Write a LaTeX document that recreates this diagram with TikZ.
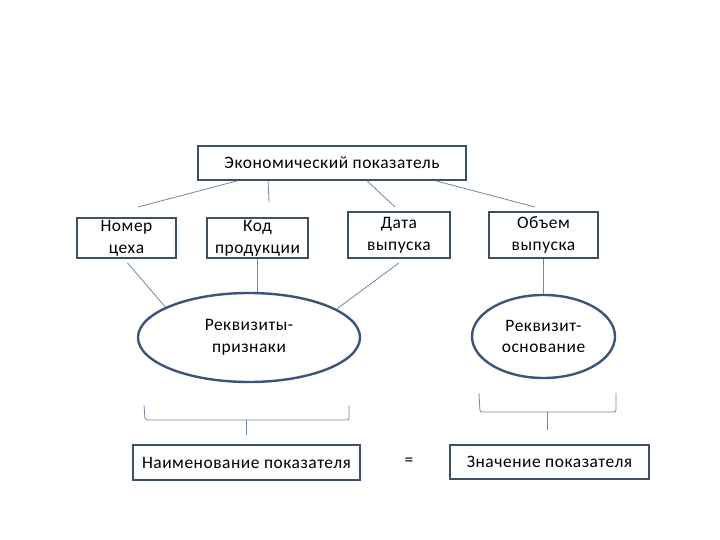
\documentclass[tikz,border=0pt]{standalone}
\usepackage{fontspec}
\setmainfont{Carlito}[LetterSpace=3]
\usepackage{tikz}
\usetikzlibrary{shapes.geometric}

\definecolor{boxline}{HTML}{3E5066}
\definecolor{ovalline}{HTML}{3B5478}
\definecolor{link}{HTML}{7088A4}

\tikzset{
    pokbox/.style={draw=boxline, line width=1.8bp, fill=white, align=center,
        inner sep=0pt, font=\fontsize{17.5}{22}\selectfont},
    oval/.style={ellipse, draw=ovalline, line width=2.4bp, fill=white, align=center,
        inner sep=0pt, font=\fontsize{17.5}{22}\selectfont},
    link/.style={draw=link, line width=0.8bp},
    brace/.style={draw=link, line width=0.8bp, rounded corners=2bp}
}

\begin{document}
\begin{tikzpicture}[x=1bp,y=-1bp]
        \useasboundingbox (0,0) rectangle (720,540);

        % Top
        \node[pokbox, minimum width=268bp, minimum height=34bp] (pok) at (332,163) {Экономический показатель};

        % Attributes
        \node[pokbox, minimum width=99bp, minimum height=40bp] (nomer) at (126.5,238) {Номер\\цеха};
        \node[pokbox, minimum width=101bp, minimum height=40bp] (kod) at (257.5,238) {Код\\продукции};
        \node[pokbox, minimum width=102bp, minimum height=46bp] (data) at (399,235) {Дата\\выпуска};
        \node[pokbox, minimum width=109bp, minimum height=46bp] (obem) at (543.5,235) {Объем\\выпуска};

        % Top links
        \coordinate (l1) at (138,207);
        \coordinate (l2) at (269,202);
        \coordinate (l3) at (395,207);
        \coordinate (l4) at (535,207);
        \draw[link] (pok.south west) ++(40,0) -- (l1);
        \draw[link] (pok.south west) ++(71,0) -- (l2);
        \draw[link] (pok.south west) ++(170,0) -- (l3);
        \draw[link] (pok.south west) ++(239,0) -- (l4);

        % Groups
        \node[oval, minimum width=222bp, minimum height=89bp] (priz) at (249,337.5) {Реквизиты-\\признаки};
        \node[oval, minimum width=143bp, minimum height=83bp] (osn) at (543.5,336.5) {Реквизит-\\основание};

        \draw[link] (nomer.south) ++(1,4) -- (priz.160);
        \draw[link] (kod.south) -- (kod.south |- priz.north);
        \draw[link] (data.south) ++(0,4) -- (priz.18);
        \draw[link] (obem.south) -- (osn.north);

        % Braces
        \draw[brace] (144,405) -- (145,420) -- (349,420) -- (349,405);
        \draw[link] (246,420) -- (246,435);
        \draw[brace] (479,393) -- (480,412) -- (616,412) -- (616,393);
        \draw[link] (547,412) -- (547,430);

        % Result
        \node[pokbox, minimum width=227bp, minimum height=35bp] (naim) at (246.5,462.5) {Наименование показателя};
        \node[pokbox, minimum width=199bp, minimum height=34bp] (znach) at (549.5,462) {Значение показателя};
        \node[font=\fontsize{17.5}{20}\selectfont] (eq) at (409,462) {=};
\end{tikzpicture}
\end{document}
